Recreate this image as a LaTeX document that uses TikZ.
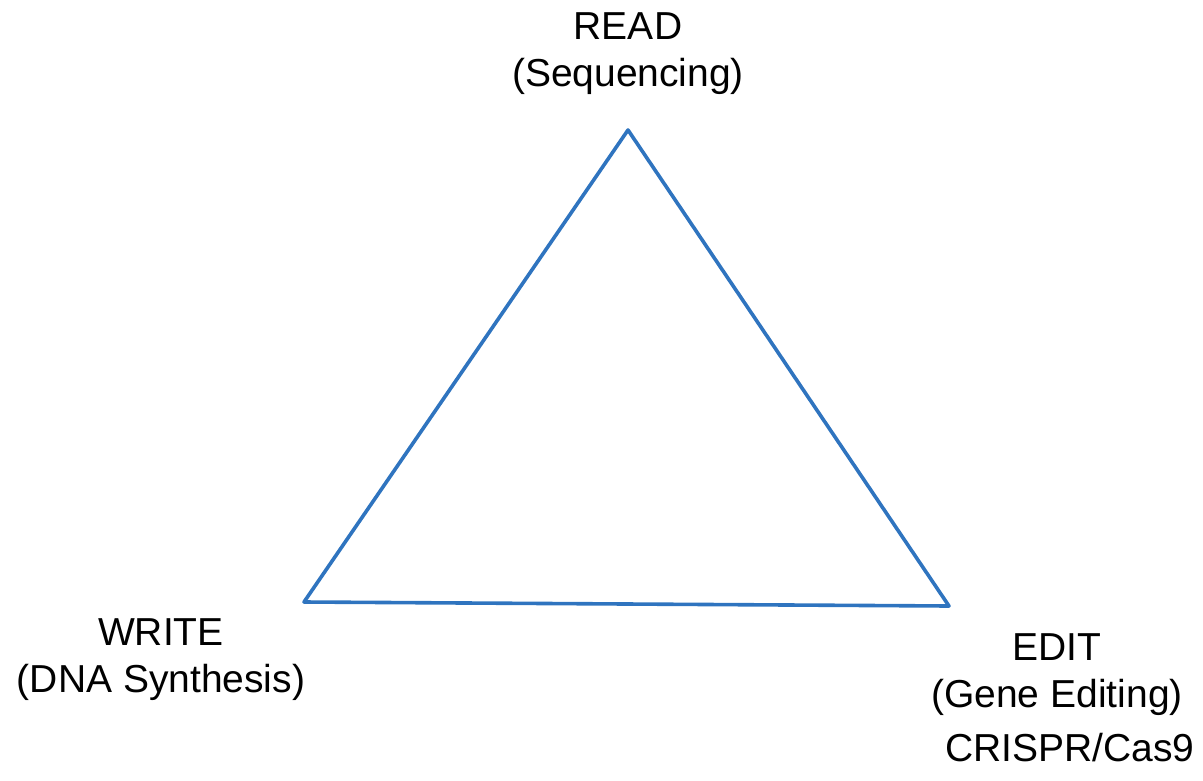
\documentclass[tikz,border=0pt]{standalone}
\usepackage{fontspec}
\setmainfont{Liberation Sans}
\definecolor{triblue}{HTML}{2F74BF}
\begin{document}
\begin{tikzpicture}[x=1pt,y=-1pt,
  lbl/.style={font=\fontsize{39}{47}\selectfont, align=center, inner sep=0pt},
  edge/.style={draw=triblue, line width=3.6pt, line join=round}]
\useasboundingbox (0,0) rectangle (1203,780);
\coordinate (top) at (628,130);
\coordinate (bl) at (304,602);
\coordinate (br) at (949,606);
\draw[edge] (top) -- (bl) -- (br) -- cycle;
\node[lbl] (read) at (628,54) {READ\\(Sequencing)};
\node[lbl] (write) at (161,660) {WRITE\\(DNA Synthesis)};
\node[lbl] (edit) at (1057,675) {EDIT\\(Gene Editing)};
\node[lbl] (crispr) at (1070,748) {CRISPR/Cas9};
\end{tikzpicture}
\end{document}
